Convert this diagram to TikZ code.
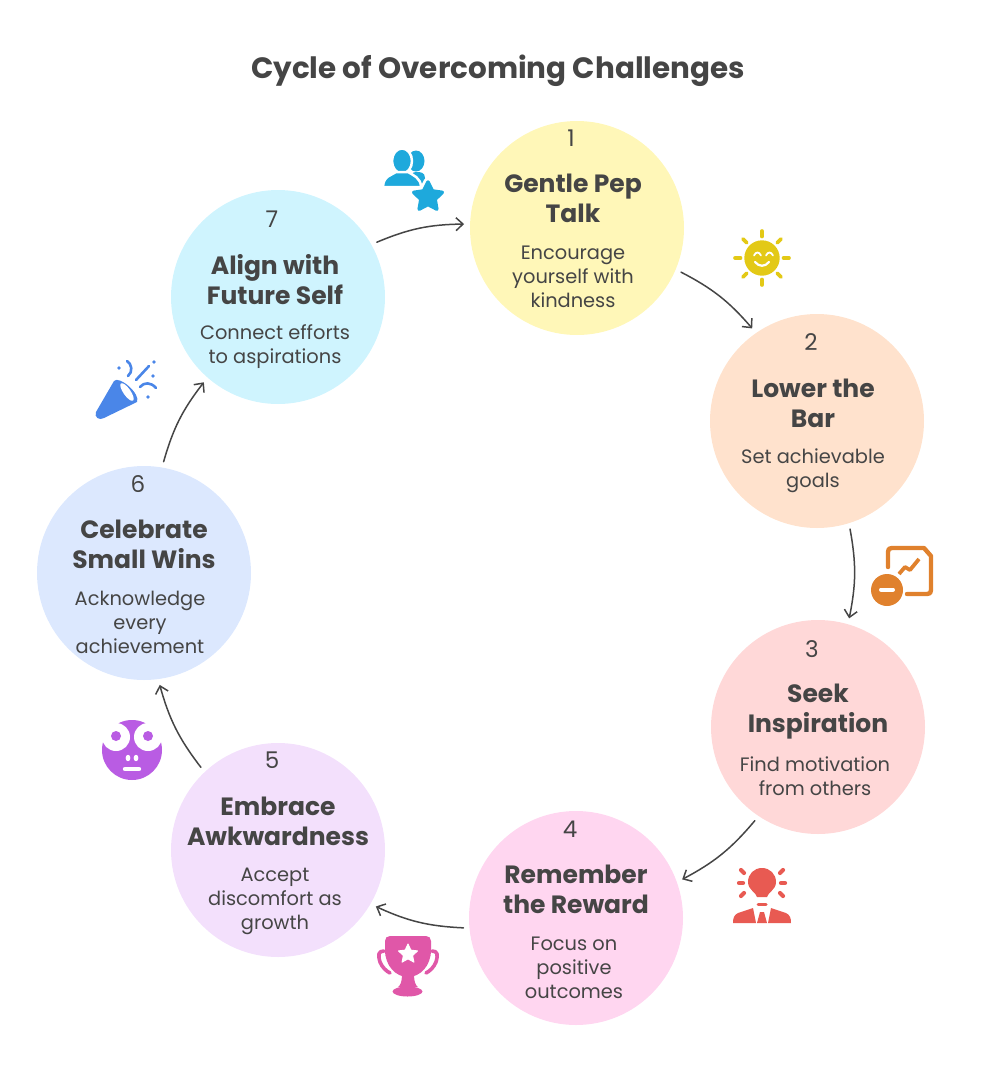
\documentclass[tikz,border=0pt]{standalone}
\usepackage{fontspec}
\setmainfont{Poppins}
\usetikzlibrary{arrows.meta}
\definecolor{inkgray}{HTML}{454545}
\definecolor{stageone}{HTML}{FFF7B8}
\definecolor{stagetwo}{HTML}{FFE2CD}
\definecolor{stagethree}{HTML}{FFD8D8}
\definecolor{stagefour}{HTML}{FFD6F0}
\definecolor{stagefive}{HTML}{F3E0FC}
\definecolor{stagesix}{HTML}{DCE8FE}
\definecolor{stageseven}{HTML}{CFF4FE}
\definecolor{iconblue}{HTML}{1EA9DC}
\definecolor{iconsun}{HTML}{E3C916}
\definecolor{iconorange}{HTML}{E0812D}
\definecolor{iconred}{HTML}{E85A52}
\definecolor{iconpink}{HTML}{E057A8}
\definecolor{iconpurple}{HTML}{B95CE3}
\definecolor{iconparty}{HTML}{4A86E8}
\tikzset{
	stage/.style={circle,minimum size=214pt,inner sep=0pt,outer sep=6pt},
	stagenum/.style={text=inkgray,font=\fontsize{23}{28}\selectfont},
	stagetitle/.style={text=inkgray,align=center,font=\fontsize{25}{30}\selectfont\bfseries},
	stagedesc/.style={text=inkgray,align=center,font=\fontsize{19.4}{24}\selectfont},
	flow/.style={draw=inkgray,line width=1.5pt,-{Straight Barb[length=7pt,width=13pt]},bend left=11}
}
% five pointed star, centre #1, radii #2 and #3, style #4
\newcommand{\iconstar}[4]{
	\begin{scope}[shift={#1}]
		\path[#4] (-90:#2) -- (-54:#3) -- (-18:#2) -- (18:#3) -- (54:#2) -- (90:#3) -- (126:#2) -- (162:#3) -- (198:#2) -- (234:#3) -- cycle;
	\end{scope}
}
\begin{document}
\begin{tikzpicture}[x=1pt,y=-1pt,line cap=round,line join=round]
	\useasboundingbox (0,0) rectangle (996,1092);
	% Title
	\node[text=inkgray,font=\fontsize{29.4}{34}\selectfont\bfseries] (title) at (498,71) {Cycle of Overcoming Challenges};
	% Stage circles
	\node[stage,fill=stageone] (c1) at (577,228) {};
	\node[stage,fill=stagetwo] (c2) at (817,421) {};
	\node[stage,fill=stagethree] (c3) at (818,727) {};
	\node[stage,fill=stagefour] (c4) at (576,918) {};
	\node[stage,fill=stagefive] (c5) at (278,850) {};
	\node[stage,fill=stagesix] (c6) at (144,573) {};
	\node[stage,fill=stageseven] (c7) at (278,297) {};
	% Stage 1
	\node[stagenum] (n1) at (571,138) {1};
	\node[stagetitle] (t1) at (573,198) {Gentle Pep\\Talk};
	\node[stagedesc] (d1) at (573,277) {Encourage\\yourself with\\kindness};
	% Stage 2
	\node[stagenum] (n2) at (811,342) {2};
	\node[stagetitle] (t2) at (813,403) {Lower the\\Bar};
	\node[stagedesc] (d2) at (813,471) {Set achievable\\goals};
	% Stage 3
	\node[stagenum] (n3) at (812,649) {3};
	\node[stagetitle] (t3) at (818,712) {Seek\\Inspiration};
	\node[stagedesc] (d3) at (815,776) {Find motivation\\from others};
	% Stage 4
	\node[stagenum] (n4) at (570,829) {4};
	\node[stagetitle] (t4) at (576,889) {Remember\\the Reward};
	\node[stagedesc] (d4) at (574,968) {Focus on\\positive\\outcomes};
	% Stage 5
	\node[stagenum] (n5) at (272,760) {5};
	\node[stagetitle] (t5) at (278,821) {Embrace\\Awkwardness};
	\node[stagedesc] (d5) at (275,901) {Accept\\discomfort as\\growth};
	% Stage 6
	\node[stagenum] (n6) at (138,484) {6};
	\node[stagetitle] (t6) at (144,544) {Celebrate\\Small Wins};
	\node[stagedesc] (d6) at (140,622) {Acknowledge\\every\\achievement};
	% Stage 7
	\node[stagenum] (n7) at (272,219) {7};
	\node[stagetitle] (t7) at (275,280) {Align with\\Future Self};
	\node[stagedesc] (d7) at (275,347) {Connect efforts\\to aspirations};
	% Curved arrows between stages
	\draw[flow] (c1.-23) to (c2.125);
	\draw[flow] (c2.-73) to (c3.74);
	\draw[flow] (c3.-124) to (c4.20);
	\draw[flow] (c4.-175) to (c5.-30);
	\draw[flow] (c5.133) to (c6.-82);
	\draw[flow] (c6.80) to (c7.-131);
	\draw[flow] (c7.29) to (c1.178);
	% People and star
	\fill[iconblue] (416,161) ellipse (8.5 and 10.5);
	\fill[iconblue] (408,186) .. controls (410,175) and (412,172) .. (416,172) .. controls (420,172) and (425,172) .. (425,178) -- (425,186) -- cycle;
	\fill[iconblue,draw=white,line width=2.5pt] (402,161) ellipse (10 and 12.5);
	\fill[iconblue,draw=white,line width=2.5pt] (383,187) .. controls (383,176) and (392,175) .. (396,172) -- (408,172) .. controls (413,175) and (421,178) .. (421,187) -- cycle;
	\iconstar{(428,197)}{15}{7.5}{fill=white,draw=white,line width=9pt}
	\iconstar{(428,197)}{15}{7.5}{fill=iconblue,draw=iconblue,line width=3.5pt}
	% Sun
	\fill[iconsun] (762,258) circle (17.7);
	\foreach \ang in {0,45,...,315} {
		\draw[iconsun,line width=3.6pt] (762,258) ++(\ang:21.5) -- ++(\ang:5.5);
	}
	\draw[white,line width=1.8pt] (754,255.5) .. controls (756,251.5) and (759,251.5) .. (761,255.5);
	\draw[white,line width=1.8pt] (766,255.5) .. controls (768,251.5) and (771,251.5) .. (773,255.5);
	\draw[white,line width=2.2pt] (755,262) .. controls (759,267) and (765,267) .. (769,262);
	% Chart page with minus badge
	\draw[iconorange,line width=4.4pt] (888,567) -- (888,552) .. controls (888,549) and (889,548) .. (892,548) -- (924,548) -- (931,556) -- (931,590) .. controls (931,593) and (930,594) .. (927,594) -- (907,594);
	\draw[iconorange,line width=3.8pt,line cap=butt] (899,574) -- (905,567) -- (910,570) -- (919,559);
	\fill[iconorange] (887,590) circle (16);
	\draw[white,line width=4pt] (881,589.5) -- (893,589.5);
	% Bulb head
	\fill[iconred] (757,897) -- (767,897) .. controls (768,892) and (776,890) .. (776,882) .. controls (776,874) and (770,868) .. (762,868) .. controls (754,868) and (748,874) .. (748,882) .. controls (748,890) and (756,892) .. (757,897) -- cycle;
	\draw[iconred,line width=3pt] (758,904) -- (766,904);
	\foreach \xa/\ya/\xb/\yb in {739/883/743/883, 741/870/744/873, 741/896/744/893, 781/883/785/883, 780/873/783/870, 780/893/783/896} {
		\draw[iconred,line width=4.2pt] (\xa,\ya) -- (\xb,\yb);
	}
	\fill[iconred] (733,923) .. controls (733,918) and (734,915) .. (738,913) -- (753,908) -- (756,923) -- cycle;
	\fill[iconred] (791,923) .. controls (791,918) and (790,915) .. (786,913) -- (771,908) -- (768,923) -- cycle;
	\fill[iconred] (760,912) -- (764,912) -- (767,923) -- (757,923) -- cycle;
	% Trophy
	\fill[iconpink] (390,936) -- (426,936) .. controls (429,936) and (431,938) .. (431,941) -- (431,950) .. controls (431,966) and (420,977) .. (408,977) .. controls (396,977) and (385,966) .. (385,950) -- (385,941) .. controls (385,938) and (387,936) .. (390,936) -- cycle;
	\fill[iconpink] (402,975) -- (414,975) .. controls (414,982) and (416,986) .. (418,987) -- (398,987) .. controls (400,986) and (402,982) .. (402,975) -- cycle;
	\fill[iconpink] (407.5,991.5) ellipse (15 and 5);
	\draw[iconpink,line width=3.6pt] (384,951) .. controls (378,951) and (378,955) .. (380,962) .. controls (382,967) and (386,971) .. (390,973);
	\draw[iconpink,line width=3.6pt] (432,951) .. controls (438,951) and (438,955) .. (436,962) .. controls (434,967) and (430,971) .. (426,973);
	\iconstar{(408,954)}{10}{4.8}{fill=white,draw=white,line width=1pt}
	% Dizzy face
	\fill[iconpurple] (132,750) circle (30);
	\fill[white] (116,737) circle (14);
	\fill[white] (148,737) circle (14);
	\fill[iconpurple] (116,736) circle (5);
	\fill[iconpurple] (148,736) circle (5);
	\fill[white] (128,758) ellipse (2.4 and 3.2);
	\fill[white] (136,758) ellipse (2.4 and 3.2);
	\draw[white,line width=4.4pt] (125,769) -- (139,769);
	% Party popper
	\fill[iconparty] (114,381) .. controls (119,375) and (141,394) .. (137,402) -- (104,418) .. controls (99,421) and (94,417) .. (96,412) -- cycle;
	\fill[white,rotate around={-55:(127,392)}] (127,392) ellipse (10.5 and 3.6);
	\fill[iconparty] (119,368) circle (1.9);
	\fill[iconparty] (154,362) circle (1.9);
	\fill[iconparty] (153,376) circle (1.9);
	\fill[iconparty] (148,397) circle (1.9);
	\draw[iconparty,line width=2.6pt] (136,380) -- (149,366);
	\draw[iconparty,line width=2.6pt] (127,361) .. controls (132,364) and (133,372) .. (128,376);
	\draw[iconparty,line width=2.6pt] (140,387) .. controls (144,382) and (151,382) .. (156,388);
\end{tikzpicture}
\end{document}
